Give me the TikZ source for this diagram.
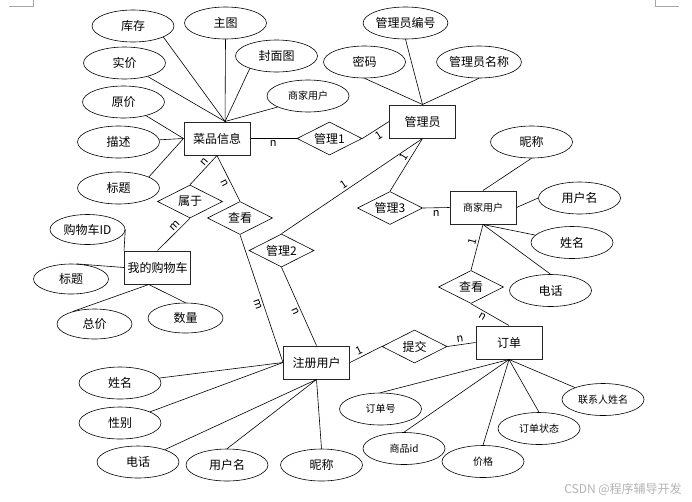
\documentclass[tikz,border=0pt]{standalone}
\usepackage{fontspec}
\setmainfont{Noto Sans CJK SC}
\usetikzlibrary{shapes.geometric,calc}

\begin{document}
\begin{tikzpicture}[x=1pt,y=-1pt,line width=0.6pt,
  ent/.style={draw=black!85, line width=1pt, minimum width=66pt, minimum height=33pt, inner sep=0pt, font=\fontsize{12}{14}\selectfont},
  rel/.style={draw, diamond, aspect=2, minimum width=65pt, minimum height=33pt, inner sep=0pt, font=\fontsize{12}{14}\selectfont},
  attr/.style={draw, ellipse, minimum width=82pt, minimum height=32pt, inner sep=0pt, font=\fontsize{12}{14}\selectfont},
  sattr/.style={attr, minimum width=75pt, minimum height=30pt},
  sm/.style={font=\fontsize{10}{12}\selectfont},
  lab/.style={font=\fontsize{11}{13}\selectfont, inner sep=2pt}]

  \useasboundingbox (0,0) rectangle (692,501);

  % page corner marks
  \draw[black!35, line width=0.5pt] (9,6) -- (33,6) -- (33,0);
  \draw[black!35, line width=0.5pt] (679,6) -- (655,6) -- (655,0);

  % entities
  \node[ent] (caipin) at (217,138.5) {菜品信息};
  \node[ent] (gly) at (422.5,121.5) {管理员};
  \node[ent, sm] (shangjia) at (483,207.5) {商家用户};
  \node[ent] (gwc) at (157.5,267.5) {我的购物车};
  \node[ent] (zhuce) at (316.5,362.5) {注册用户};
  \node[ent] (dingdan) at (509,342.5) {订单};

  % relationships
  \node[rel] (gl1) at (329.5,138.5) {管理1};
  \node[rel] (shuyu) at (190,201.5) {属于};
  \node[rel] (chakan1) at (240,218) {查看};
  \node[rel] (gl2) at (281.5,250.5) {管理2};
  \node[rel] (gl3) at (390,208) {管理3};
  \node[rel] (chakan2) at (471,287) {查看};
  \node[rel] (tijiao) at (414.5,346.5) {提交};

  % attributes of 菜品信息
  \node[attr] (kucun) at (133,26) {库存};
  \node[attr] (zhutu) at (225.5,23) {主图};
  \node[attr] (fengmian) at (276.5,56) {封面图};
  \node[attr] (shijia) at (124.5,63) {实价};
  \node[attr, sm] (sjyh) at (308,96) {商家用户};
  \node[attr] (yuanjia) at (123.5,102) {原价};
  \node[attr] (miaoshu) at (118.5,142) {描述};
  \node[attr] (biaoti1) at (118.5,188) {标题};

  % attributes of 我的购物车
  \node[sattr] (gwcid) at (87.5,229.5) {购物车ID};
  \node[sattr] (biaoti2) at (71,279) {标题};
  \node[sattr] (zongjia) at (94.5,324) {总价};
  \node[sattr] (shuliang) at (185.5,318) {数量};

  % attributes of 注册用户
  \node[attr] (xm1) at (120,383) {姓名};
  \node[attr] (xb) at (120,423) {性别};
  \node[attr] (dh1) at (138,462) {电话};
  \node[attr] (yhm1) at (227,465) {用户名};
  \node[attr] (nc1) at (321.5,465) {昵称};

  % attributes of 管理员
  \node[attr] (glybh) at (405.5,23) {管理员编号};
  \node[attr] (mima) at (364.5,62) {密码};
  \node[attr] (glymc) at (479,62) {管理员名称};

  % attributes of 商家用户
  \node[attr] (nc2) at (531.5,142) {昵称};
  \node[attr] (yhm2) at (579.5,198) {用户名};
  \node[attr] (xm2) at (572,242.5) {姓名};
  \node[attr] (dh2) at (550.5,290.5) {电话};

  % attributes of 订单
  \node[attr, sm] (ddh) at (380.5,409) {订单号};
  \node[attr, sm] (spid) at (404,448.5) {商品id};
  \node[attr, sm] (jiage) at (483,461.5) {价格};
  \node[attr, sm] (ddzt) at (539,428.5) {订单状态};
  \node[attr, sm] (lxr) at (603,399.5) {联系人姓名};

  \coordinate (ctop) at ($(caipin.north west)!0.62!(caipin.north east)$);
  \coordinate (gbot) at ($(gwc.south west)!0.37!(gwc.south east)$);

  % attribute lines
  \draw (kucun.-20) -- (ctop);
  \draw (zhutu.south) -- (ctop);
  \draw (fengmian.-155) -- (ctop);
  \draw (shijia) -- (ctop);
  \draw (sjyh.-160) -- (ctop);
  \draw (yuanjia) -- (caipin.west);
  \draw (miaoshu) -- (caipin.west);
  \draw (biaoti1.20) -- (caipin.west);

  \draw (gwcid.east) -- (gwc.north west);
  \draw (biaoti2.70) -- (gwc.west);
  \draw (zongjia.150) -- (gbot);
  \draw (shuliang.north) -- (gbot);

  \draw (xm1) -- (zhuce.west);
  \draw (xb) -- (zhuce.west);
  \draw (dh1) -- (zhuce.south);
  \draw (yhm1.north) -- (zhuce.south);
  \draw (nc1.north) -- (zhuce.south);

  \draw (glybh.south) -- (gly.north);
  \draw (mima.south) -- (gly.north);
  \draw (glymc.south) -- (gly.north);

  \draw (nc2.south) -- (shangjia.north);
  \draw (yhm2.west) -- (shangjia.east);
  \draw (xm2) -- (shangjia.south);
  \draw (dh2.north) -- (shangjia.south);

  \draw (ddh.north) -- (dingdan.south);
  \draw (spid.north) -- (dingdan.south);
  \draw (jiage.north) -- (dingdan.south);
  \draw (ddzt.north) -- (dingdan.south);
  \draw (lxr) -- (dingdan.south);

  % relationship lines
  \draw (caipin.east) -- node[lab, pos=0.49, below] {n} (gl1.west);
  \draw (gl1.east) -- node[lab, pos=0.5, sloped, below] {1} (gly.west);
  \draw (gly.south) -- node[lab, pos=0.41, sloped, above] {1} (gl3.north);
  \draw (gly.south) -- node[lab, pos=0.535, sloped, above] {1} (gl2.north);
  \draw (gl3.east) -- node[lab, pos=0.5, below] {n} (shangjia.west);
  \draw (shangjia.south) -- node[lab, pos=0.4, sloped, above] {1} (chakan2.north);
  \draw (chakan2.south) -- node[lab, pos=0.37, sloped, below] {n} (dingdan.north);
  \draw (zhuce.east) -- node[lab, pos=0.37, sloped, above] {1} (tijiao.west);
  \draw (tijiao.east) -- node[lab, pos=0.48, sloped, above] {n} (dingdan.west);
  \draw (caipin.south) -- node[lab, pos=0.33, sloped, above] {n} (shuyu.north);
  \draw (shuyu.south) -- node[lab, pos=0.34, sloped, above] {m} (gwc.north);
  \draw (caipin.south) -- node[lab, pos=0.55, sloped, below] {n} (chakan1.north);
  \draw (chakan1.south) -- node[lab, pos=0.53, sloped, below] {m} (zhuce.west);
  \draw (gl2.south) -- node[lab, pos=0.54, sloped, below] {n} (zhuce.north);

  % watermark
  \node[text=black!30, font=\fontsize{12}{14}\selectfont] (csdn) at (623,489) {CSDN @程序辅导开发};
\end{tikzpicture}
\end{document}
